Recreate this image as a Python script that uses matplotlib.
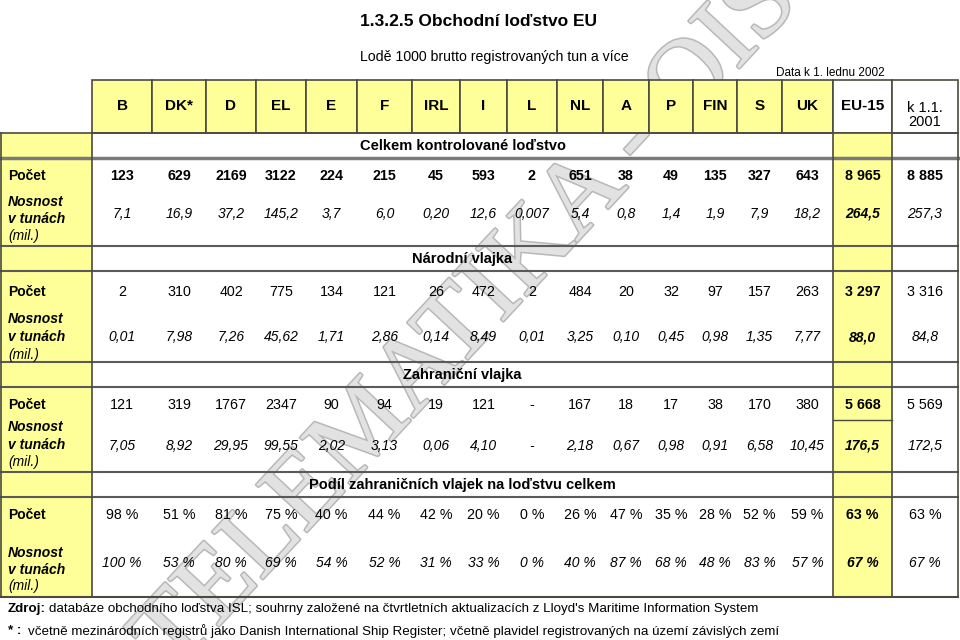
import matplotlib
matplotlib.use("Agg")
import matplotlib.pyplot as plt
import matplotlib.patheffects as pe
from matplotlib.patches import Rectangle

plt.rcParams['font.family'] = ['Liberation Sans', 'DejaVu Sans']

# table content
countries = ["B", "DK*", "D", "EL", "E", "F", "IRL", "I", "L", "NL", "A", "P",
             "FIN", "S", "UK", "EU-15", "k 1.1.\n2001"]
col_edges = [92, 152, 206, 256, 306, 357, 412, 460, 507, 557, 603, 649, 693,
             737, 782, 833, 892, 958]

section_titles = ["Celkem kontrolované loďstvo", "Národní vlajka",
                  "Zahraniční vlajka", "Podíl zahraničních vlajek na loďstvu celkem"]

total_count = ["123", "629", "2169", "3122", "224", "215", "45", "593", "2", "651",
               "38", "49", "135", "327", "643", "8 965", "8 885"]
total_tons = ["7,1", "16,9", "37,2", "145,2", "3,7", "6,0", "0,20", "12,6", "0,007",
              "5,4", "0,8", "1,4", "1,9", "7,9", "18,2", "264,5", "257,3"]
national_count = ["2", "310", "402", "775", "134", "121", "26", "472", "2", "484",
                  "20", "32", "97", "157", "263", "3 297", "3 316"]
national_tons = ["0,01", "7,98", "7,26", "45,62", "1,71", "2,86", "0,14", "8,49",
                 "0,01", "3,25", "0,10", "0,45", "0,98", "1,35", "7,77", "88,0", "84,8"]
foreign_count = ["121", "319", "1767", "2347", "90", "94", "19", "121", "-", "167",
                 "18", "17", "38", "170", "380", "5 668", "5 569"]
foreign_tons = ["7,05", "8,92", "29,95", "99,55", "2,02", "3,13", "0,06", "4,10", "-",
                "2,18", "0,67", "0,98", "0,91", "6,58", "10,45", "176,5", "172,5"]
share_count = ["98 %", "51 %", "81 %", "75 %", "40 %", "44 %", "42 %", "20 %", "0 %",
               "26 %", "47 %", "35 %", "28 %", "52 %", "59 %", "63 %", "63 %"]
share_tons = ["100 %", "53 %", "80 %", "69 %", "54 %", "52 %", "31 %", "33 %", "0 %",
              "40 %", "87 %", "68 %", "48 %", "83 %", "57 %", "67 %", "67 %"]

sections = [(total_count, total_tons), (national_count, national_tons),
            (foreign_count, foreign_tons), (share_count, share_tons)]

YELLOW = "#ffff99"
LINE = "#4a4a40"

fig = plt.figure(figsize=(9.6, 6.4), dpi=100)
ax = fig.add_axes([0, 0, 1, 1])
ax.set_xlim(0, 960)
ax.set_ylim(640, 0)
ax.axis("off")

# watermark
ax.text(468, 322, "TELEMATIKA - OIS", rotation=47, ha="center", va="center",
        fontsize=76, family="Liberation Serif", color="#e2e2e2", zorder=0,
        clip_on=True,
        path_effects=[pe.withStroke(linewidth=2.2, foreground="#b8b8b8")])

# titles
ax.text(360, 22, "1.3.2.5 Obchodní loďstvo EU", fontsize=12.5, weight="bold",
        ha="left", va="center")
ax.text(360, 57, "Lodě 1000 brutto registrovaných tun a více", fontsize=10.2,
        ha="left", va="center")
ax.text(885, 73, "Data k 1. lednu 2002", fontsize=8.5, ha="right", va="center")

# header row
head_top, head_bot = 80, 133
for i, name in enumerate(countries):
    x0, x1 = col_edges[i], col_edges[i + 1]
    fc = YELLOW if i < 15 else "white"
    ax.add_patch(Rectangle((x0, head_top), x1 - x0, head_bot - head_top,
                           facecolor=fc, edgecolor=LINE, lw=1.2, zorder=1))
    if i == 16:
        ax.text((x0 + x1) / 2, 115, name, fontsize=10.5, ha="center", va="center",
                linespacing=1.05, zorder=3)
    else:
        ax.text((x0 + x1) / 2, 106, name, fontsize=11, weight="bold",
                ha="center", va="center", zorder=3)

# body backgrounds
body_bot = 597
ax.add_patch(Rectangle((0, head_bot), 92, body_bot - head_bot, facecolor=YELLOW,
                       edgecolor="none", zorder=1))
ax.add_patch(Rectangle((833, head_bot), 59, body_bot - head_bot, facecolor=YELLOW,
                       edgecolor="none", zorder=1))

# band rows (title row + data section)
band_tops = [133, 246, 362, 472]
count_y = [176, 292, 405, 515]
tons_y = [214, 337, 446, 563]
label_y = [(202, 219, 236), (319, 337, 355), (427, 445, 462), (553, 570, 586)]

for k in range(4):
    ax.text(462.5, band_tops[k] + 13, section_titles[k], fontsize=10.5, weight="bold",
            ha="center", va="center", zorder=3)
    counts, tons = sections[k]
    for i in range(17):
        xc = (col_edges[i] + col_edges[i + 1]) / 2
        bold = (k == 0) or (i == 15)
        ax.text(xc, count_y[k], counts[i], fontsize=10.3,
                weight="bold" if bold else "normal", ha="center", va="center", zorder=3)
        ax.text(xc, tons_y[k], tons[i], fontsize=10, style="italic",
                weight="bold" if i == 15 else "normal", ha="center", va="center", zorder=3)
    ax.text(8, count_y[k], "Počet", fontsize=10, weight="bold", ha="left",
            va="center", zorder=3)
    ly = label_y[k]
    ax.text(8, ly[0], "Nosnost", fontsize=10, weight="bold", style="italic",
            ha="left", va="center", zorder=3)
    ax.text(8, ly[1], "v tunách", fontsize=10, weight="bold", style="italic",
            ha="left", va="center", zorder=3)
    ax.text(8, ly[2], "(mil.)", fontsize=10, style="italic", ha="left",
            va="center", zorder=3)

# grid lines
ax.plot([0, 958], [head_bot, head_bot], color=LINE, lw=1.2, zorder=2)
ax.plot([0, 958], [158, 158], color="#7a7a7a", lw=2.5, zorder=2)
for y in [246, 271, 362, 387, 472, 497]:
    ax.plot([0, 958], [y, y], color="#5a5a5a", lw=1.5, zorder=2)
ax.plot([0, 958], [body_bot, body_bot], color=LINE, lw=1.5, zorder=2)
for x in [0.7, 92, 833, 892, 958]:
    ax.plot([x, x], [head_bot, body_bot], color=LINE, lw=1.2, zorder=2)
ax.plot([833, 892], [420, 420], color=LINE, lw=1.0, zorder=2)

# footnotes
ax.text(8, 609, "Zdroj:", fontsize=9.6, weight="bold", ha="left", va="center")
ax.text(49, 609, "databáze obchodního loďstva ISL; souhrny založené na čtvrtletních "
        "aktualizacích z Lloyd's Maritime Information System", fontsize=9.6,
        ha="left", va="center")
ax.text(8, 631, "* :", fontsize=9.6, weight="bold", ha="left", va="center")
ax.text(28, 631, "včetně mezinárodních registrů jako Danish International Ship Register; "
        "včetně plavidel registrovaných na území závislých zemí", fontsize=9.6,
        ha="left", va="center")

fig.savefig("out.png", dpi=100)
